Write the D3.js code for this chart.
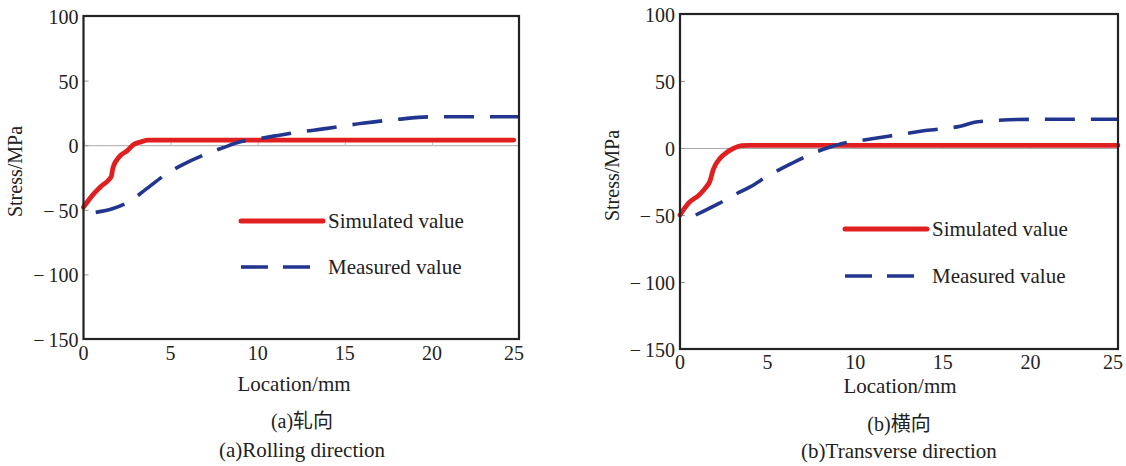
<!DOCTYPE html>
<html>
<head>
<meta charset="utf-8">
<script src="https://cdn.jsdelivr.net/npm/d3@7"></script>
<style>
  body { margin: 0; background: #fff; }
  svg text { font-family: "Liberation Serif", "Noto Sans CJK SC", serif; fill: #222; }
</style>
</head>
<body>
<div id="chart"></div>
<script>
// -------- data ------------------------------ //
var xTicks = [0, 5, 10, 15, 20, 25];
var yTicks = [100, 50, 0, -50, -100, -150];
var seriesNames = ["Simulated value", "Measured value"];

// (a) rolling direction, [location mm, stress MPa]
var rollSimulated = [[0, -48], [0.5, -39], [1, -32], [1.5, -26], [1.6, -24], [1.7, -17],
  [2.1, -8.3], [2.5, -4.4], [2.9, 0.8], [3.3, 2.6], [3.7, 4], [24.7, 4]];
var rollMeasured = [[0.7, -52], [1.7, -49], [2.7, -43], [3.5, -35], [4.9, -21], [5.7, -15],
  [7, -7], [8, -2], [9, 2.6], [9.9, 4.7], [11, 7.2], [12.2, 9.8], [14, 13], [16, 17],
  [18, 20], [20, 22], [25, 22]];

// (b) transverse direction
var transSimulated = [[0, -50], [0.5, -41], [1.1, -35], [1.5, -29], [1.7, -25], [1.9, -16],
  [2.3, -7.5], [2.7, -3], [3.1, 0], [3.5, 1.8], [4, 2], [25, 2]];
var transMeasured = [[0.9, -50], [2.2, -41.5], [3.1, -35], [4, -29], [5, -21], [6.2, -12.6],
  [7.4, -5], [8.4, 0], [9.4, 3.8], [10, 5], [11.9, 8.8], [14, 13], [16, 16.3], [17, 19.6],
  [20, 21.4], [25, 21.4]];

var captionsCn = ["(a)轧向", "(b)横向"];
var captionsEn = ["(a)Rolling direction", "(b)Transverse direction"];

// -------- layout ---------- //
var panels = [
  { left: 83.5, right: 519, top: 16, bottom: 339, sim: rollSimulated, meas: rollMeasured,
    legX: 241, legY: 221, legGap: 46, xTitleX: 294, xTitleY: 391, capX: 302, capY1: 428, capY2: 457,
    yTitleX: 22, xLabY: 360 },
  { left: 680, right: 1118, top: 14, bottom: 349, sim: transSimulated, meas: transMeasured,
    legX: 845, legY: 229, legGap: 47, xTitleX: 900, xTitleY: 393, capX: 899, capY1: 431, capY2: 458,
    yTitleX: 619, xLabY: 369 }
];

var red = "#e02020";
var blue = "#23368f";

var svg = d3.select("#chart").append("svg")
  .attr("width", 1126)
  .attr("height", 466);

function fmt(v) {
  return v < 0 ? "\u2212\u2009" + Math.abs(v) : String(v);
}

panels.forEach(function(p, i) {
  var x = d3.scaleLinear().domain([0, 25]).range([p.left, p.right]);
  var y = d3.scaleLinear().domain([-150, 100]).range([p.bottom, p.top]);
  var g = svg.append("g");

  // zero line with little ticks
  g.append("g")
    .attr("transform", "translate(0," + y(0) + ")")
    .call(d3.axisBottom(x).tickValues(xTicks).tickSize(-4).tickFormat(""))
    .call(function(a) {
      a.select(".domain").attr("stroke", "#aaa").attr("stroke-width", 1);
      a.selectAll(".tick line").attr("stroke", "#bbb");
    });

  // y ticks (inward)
  g.append("g")
    .attr("transform", "translate(" + p.left + ",0)")
    .call(d3.axisRight(y).tickValues(yTicks).tickSize(5).tickFormat(""))
    .call(function(a) {
      a.select(".domain").remove();
      a.selectAll(".tick line").attr("stroke", "#999");
    });

  // y tick labels
  g.selectAll(".ylab").data(yTicks).join("text")
    .attr("x", p.left - 5)
    .attr("y", function(d) { return y(d); })
    .attr("dy", "0.4em")
    .attr("text-anchor", "end")
    .style("font-size", "20px")
    .text(fmt);

  // x tick labels (last one nudged in, as in the figure)
  g.selectAll(".xlab").data(xTicks).join("text")
    .attr("x", function(d) { return x(d) - (d === 25 ? 5 : 0); })
    .attr("y", p.xLabY)
    .attr("text-anchor", "middle")
    .style("font-size", "20px")
    .text(fmt);

  var line = d3.line()
    .x(function(d) { return x(d[0]); })
    .y(function(d) { return y(d[1]); })
    .curve(d3.curveMonotoneX);

  g.append("path")
    .datum(p.sim)
    .attr("d", line)
    .attr("fill", "none")
    .attr("stroke", red)
    .attr("stroke-width", 4.8)
    .attr("stroke-linecap", "round")
    .attr("stroke-linejoin", "round");

  g.append("path")
    .datum(p.meas)
    .attr("d", line)
    .attr("fill", "none")
    .attr("stroke", blue)
    .attr("stroke-width", 3.6)
    .attr("stroke-dasharray", "30,16");

  // frame
  g.append("rect")
    .attr("x", p.left)
    .attr("y", p.top)
    .attr("width", p.right - p.left)
    .attr("height", p.bottom - p.top)
    .attr("fill", "none")
    .attr("stroke", "#222")
    .attr("stroke-width", 2.2);

  // legend
  var leg = g.append("g").attr("transform", "translate(" + p.legX + "," + p.legY + ")");
  leg.append("line")
    .attr("x1", 0).attr("x2", 82).attr("y1", 0).attr("y2", 0)
    .attr("stroke", red).attr("stroke-width", 5).attr("stroke-linecap", "round");
  leg.append("line")
    .attr("x1", 0).attr("x2", 80).attr("y1", p.legGap).attr("y2", p.legGap)
    .attr("stroke", blue).attr("stroke-width", 3.6).attr("stroke-dasharray", "27,15");
  leg.selectAll("text").data(seriesNames).join("text")
    .attr("x", 87)
    .attr("y", function(d, k) { return k * p.legGap + 7; })
    .style("font-size", "21px")
    .text(function(d) { return d; });

  // axis titles
  g.append("text")
    .attr("transform", "translate(" + p.yTitleX + "," + ((p.top + p.bottom) / 2 - 6) + ") rotate(-90)")
    .attr("text-anchor", "middle")
    .style("font-size", "20px")
    .text("Stress/MPa");

  g.append("text")
    .attr("x", p.xTitleX)
    .attr("y", p.xTitleY)
    .attr("text-anchor", "middle")
    .style("font-size", "21px")
    .text("Location/mm");

  // captions
  g.append("text")
    .attr("x", p.capX)
    .attr("y", p.capY1)
    .attr("text-anchor", "middle")
    .style("font-size", "20px")
    .text(captionsCn[i]);

  g.append("text")
    .attr("x", p.capX)
    .attr("y", p.capY2)
    .attr("text-anchor", "middle")
    .style("font-size", "21px")
    .text(captionsEn[i]);
});
</script>
</body>
</html>
